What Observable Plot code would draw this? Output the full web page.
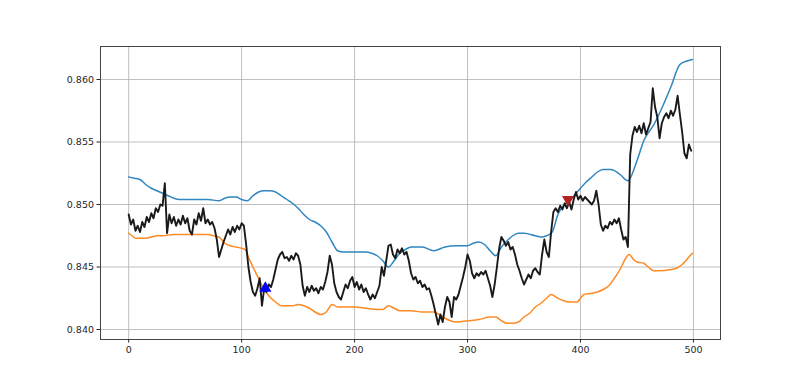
<!DOCTYPE html>
<html><head><meta charset="utf-8">
<script src="https://cdn.jsdelivr.net/npm/d3@7"></script>
<script src="https://cdn.jsdelivr.net/npm/@observablehq/plot@0.6"></script>
<style>body{margin:0;background:#fff}</style>
</head><body><div id="chart"></div>
<script>
// Price series (sampled every 2 bars, starting at bar 0)
const priceStep = 2;
const price = [
0.8492,0.8484,0.8488,0.8479,0.8483,0.8478,0.8486,0.8482,0.8490,0.8486,
0.8493,0.8489,0.8497,0.8494,0.8500,0.8499,0.8517,0.8477,0.8492,0.8485,
0.8490,0.8483,0.8488,0.8484,0.8491,0.8485,0.8489,0.8479,0.8476,0.8488,
0.8484,0.8493,0.8487,0.8497,0.8485,0.8488,0.8484,0.8486,0.8481,0.8472,
0.8458,0.8464,0.8470,0.8475,0.8480,0.8476,0.8482,0.8478,0.8483,0.8480,
0.8485,0.8483,0.8468,0.8450,0.8438,0.8430,0.8427,0.8433,0.8441,0.8419,
0.8433,0.8430,0.8436,0.8434,0.8440,0.8448,0.8456,0.8460,0.8462,0.8457,
0.8458,0.8455,0.8459,0.8456,0.8461,0.8459,0.8452,0.8435,0.8427,0.8434,
0.8430,0.8435,0.8431,0.8433,0.8429,0.8434,0.8432,0.8438,0.8446,0.8459,
0.8452,0.8437,0.8430,0.8426,0.8424,0.8430,0.8436,0.8433,0.8439,0.8442,
0.8434,0.8438,0.8432,0.8436,0.8430,0.8433,0.8428,0.8424,0.8428,0.8425,
0.8430,0.8435,0.8450,0.8443,0.8455,0.8467,0.8468,0.8460,0.8457,0.8464,
0.8461,0.8465,0.8460,0.8462,0.8455,0.8445,0.8440,0.8442,0.8437,0.8439,
0.8434,0.8436,0.8432,0.8433,0.8427,0.8420,0.8412,0.8404,0.8412,0.8406,
0.8418,0.8426,0.8422,0.8410,0.8426,0.8424,0.8428,0.8435,0.8442,0.8450,
0.8460,0.8455,0.8445,0.8441,0.8445,0.8443,0.8446,0.8444,0.8447,0.8441,
0.8435,0.8426,0.8436,0.8450,0.8465,0.8474,0.8471,0.8467,0.8470,0.8464,
0.8466,0.8460,0.8452,0.8447,0.8441,0.8436,0.8440,0.8444,0.8441,0.8447,
0.8449,0.8446,0.8444,0.8460,0.8472,0.8462,0.8458,0.8478,0.8494,0.8497,
0.8494,0.8499,0.8496,0.8501,0.8497,0.8502,0.8496,0.8504,0.8510,0.8504,
0.8507,0.8503,0.8506,0.8504,0.8502,0.8500,0.8503,0.8511,0.8500,0.8484,
0.8479,0.8483,0.8481,0.8486,0.8484,0.8488,0.8485,0.8489,0.8480,0.8472,
0.8474,0.8466,0.8540,0.8555,0.8562,0.8558,0.8563,0.8557,0.8565,0.8556,
0.8561,0.8566,0.8593,0.8578,0.8570,0.8553,0.8565,0.8570,0.8573,0.8569,
0.8575,0.8571,0.8576,0.8587,0.8572,0.8558,0.8541,0.8537,0.8548,0.8543
];

// Upper band
const upperX = [0,5,10,15,20,25,30,35,40,45,50,60,70,80,85,90,95,100,105,110,115,120,125,130,135,140,145,150,155,160,165,170,175,180,185,190,200,210,215,220,225,230,235,240,245,250,260,270,280,290,300,305,310,315,320,325,330,335,340,345,350,360,365,370,375,380,385,390,395,400,405,410,415,420,427,435,442,450,456,465,471,480,488,495,499];
const upperY = [0.8522,0.8521,0.8520,0.8516,0.8513,0.8511,0.8509,0.8507,0.8505,0.8504,0.8504,0.8504,0.8504,0.8503,0.8505,0.8506,0.8506,0.8504,0.8503,0.8507,0.8510,0.8511,0.8511,0.8510,0.8507,0.8504,0.8501,0.8497,0.8492,0.8488,0.8486,0.8483,0.8478,0.8470,0.8463,0.8462,0.8462,0.8462,0.8461,0.8459,0.8455,0.8450,0.8455,0.8461,0.8464,0.8466,0.8466,0.8463,0.8466,0.8467,0.8467,0.8469,0.8470,0.8468,0.8463,0.8459,0.8466,0.8471,0.8475,0.8477,0.8477,0.8475,0.8474,0.8475,0.8478,0.8492,0.8499,0.8503,0.8508,0.8513,0.8518,0.8522,0.8526,0.8528,0.8528,0.8524,0.8519,0.8535,0.8551,0.8564,0.8575,0.8594,0.8612,0.8615,0.8616];

// Lower band
const lowerX = [0,3,6,10,15,20,25,30,40,50,60,70,75,80,85,90,95,100,103,106,110,115,120,125,130,135,140,145,150,155,160,165,170,175,180,185,190,200,210,220,225,230,235,240,250,260,270,275,280,285,290,300,310,320,325,330,335,340,345,350,355,360,365,370,374,380,385,390,397,400,403,410,415,420,425,430,435,440,443,447,450,456,460,465,470,480,485,490,495,499];
const lowerY = [0.8477,0.8475,0.8473,0.8473,0.8473,0.8474,0.8475,0.8475,0.8476,0.8476,0.8476,0.8476,0.8475,0.8474,0.8469,0.8467,0.8466,0.8465,0.8464,0.8458,0.8450,0.8441,0.8432,0.8426,0.8422,0.8419,0.8419,0.8419,0.8420,0.8419,0.8417,0.8414,0.8412,0.8414,0.8420,0.8418,0.8418,0.8418,0.8417,0.8416,0.8416,0.8419,0.8417,0.8415,0.8415,0.8414,0.8414,0.8412,0.8409,0.8407,0.8406,0.8407,0.8408,0.8410,0.8410,0.8407,0.8405,0.8405,0.8406,0.8410,0.8413,0.8418,0.8421,0.8425,0.8428,0.8425,0.8423,0.8422,0.8422,0.8425,0.8428,0.8429,0.8430,0.8432,0.8435,0.8441,0.8448,0.8457,0.8460,0.8456,0.8454,0.8453,0.8450,0.8447,0.8447,0.8448,0.8449,0.8452,0.8457,0.8461];

// Signals
const buyX = [121], buyY = [0.8433];
const sellX = [389], sellY = [0.8504];

const xTicks = [0,100,200,300,400,500];
const yTicks = [0.840,0.845,0.850,0.855,0.860];

const priceData = price.map((v,i)=>({x:i*priceStep, y:v}));
const upper = upperX.map((x,i)=>({x, y:upperY[i]}));
const lower = lowerX.map((x,i)=>({x, y:lowerY[i]}));
const buys = buyX.map((x,i)=>({x, y:buyY[i]}));
const sells = sellX.map((x,i)=>({x, y:sellY[i]}));

const chart = Plot.plot({
  width: 800, height: 381,
  marginLeft: 100, marginRight: 80, marginTop: 46, marginBottom: 42,
  x: {domain: [-24.95, 523.95]},
  y: {domain: [0.8392, 0.86264]},
  style: {fontFamily: "DejaVu Sans", fontSize: "9.5px", color: "#262626", background: "#fff"},
  marks: [
    Plot.gridX(xTicks, {stroke: "#b0b0b0", strokeOpacity: 1, strokeWidth: 0.8}),
    Plot.gridY(yTicks, {stroke: "#b0b0b0", strokeOpacity: 1, strokeWidth: 0.8}),
    Plot.line(upper, {x: "x", y: "y", stroke: "#2f86c0", strokeWidth: 1.5, curve: "monotone-x"}),
    Plot.line(lower, {x: "x", y: "y", stroke: "#ff8a24", strokeWidth: 1.5, curve: "monotone-x"}),
    Plot.line(priceData, {x: "x", y: "y", stroke: "#1a1a1a", strokeWidth: 1.9}),
    Plot.dot(buys, {x: "x", y: "y", symbol: "triangle", fill: "#0000ff", r: 4.5}),
    Plot.dot(sells, {x: "x", y: "y", symbol: "triangle", rotate: 180, fill: "#b22222", r: 4.5}),
    Plot.frame({stroke: "#444", strokeWidth: 1}),
    Plot.axisX(xTicks, {tickSize: 3.5, tickPadding: 3, tickFormat: d3.format("d"), label: null}),
    Plot.axisY(yTicks, {tickSize: 3.5, tickPadding: 3, tickFormat: d3.format(".3f"), label: null})
  ]
});
document.getElementById("chart").appendChild(chart);
</script>
</body></html>
